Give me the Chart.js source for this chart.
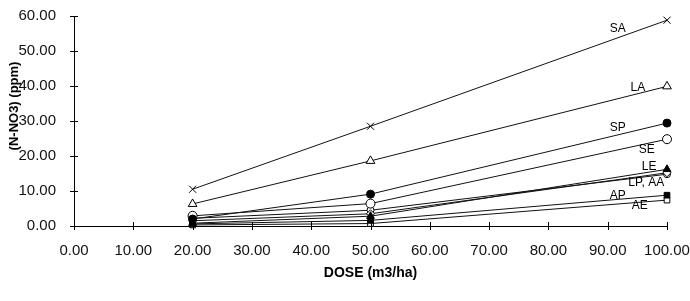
<!DOCTYPE html>
<html>
<head>
<meta charset="utf-8">
<script src="https://cdn.jsdelivr.net/npm/chart.js@4/dist/chart.umd.min.js"></script>
<style>
  html, body { margin: 0; padding: 0; background: #fff; }
  canvas { display: block; }
</style>
</head>
<body>
<canvas id="c" width="690" height="301"></canvas>
<script>
// ---- data ----
const doses = [20, 50, 100];
const seriesNames = ['SA', 'LA', 'SP', 'SE', 'LE', 'LP', 'AA', 'AP', 'AE'];
const SA = [10.5, 28.5, 58.8];
const LA = [6.3, 18.6, 39.9];
const SP = [2.0, 9.1, 29.4];
const SE = [2.9, 6.4, 24.8];
const LE = [0.8, 2.8, 16.2];
const LP = [1.5, 3.5, 15.2];
const AA = [2.2, 4.5, 14.8];
const AP = [0.6, 1.6, 8.8];
const AE = [0.3, 0.7, 7.4];
const xTicks = [0, 10, 20, 30, 40, 50, 60, 70, 80, 90, 100];
const yTicks = [0, 10, 20, 30, 40, 50, 60];
const xTitle = 'DOSE (m3/ha)';
const yTitle = '(N-NO3) (ppm)';
// label annotations (text, anchor in data units)
const labelTexts = ['SA', 'LA', 'SP', 'SE', 'LE', 'LP, AA', 'AP', 'AE'];
const labelDose = [91.7, 95.1, 91.7, 96.6, 97.0, 96.5, 91.7, 95.4];
const labelPpm  = [56.5, 39.6, 28.2, 21.9, 17.0, 12.5, 8.8, 5.9];

const values = { SA, LA, SP, SE, LE, LP, AA, AP, AE };
const styles = {
  SA: { pointStyle: 'crossRot', r: 5, fill: false },
  LA: { pointStyle: 'triangle', r: 5, fill: false },
  SP: { pointStyle: 'circle', r: 4, fill: true },
  SE: { pointStyle: 'circle', r: 4.5, fill: false },
  LE: { pointStyle: 'triangle', r: 4.5, fill: true },
  LP: { pointStyle: 'rectRot', r: 4, fill: false },
  AA: { pointStyle: 'circle', r: 3.5, fill: false },
  AP: { pointStyle: 'rect', r: 4, fill: true },
  AE: { pointStyle: 'rect', r: 4, fill: false }
};

const datasets = seriesNames.map(name => {
  const s = styles[name];
  return {
    label: name,
    data: doses.map((d, i) => ({ x: d, y: values[name][i] })),
    borderColor: '#111',
    borderWidth: 1,
    pointStyle: s.pointStyle,
    pointRadius: s.r,
    pointBorderWidth: 1,
    pointBorderColor: '#000',
    pointBackgroundColor: s.fill ? '#000' : '#fff',
    tension: 0,
    fill: false,
    clip: false
  };
});

const TICK_FONT = { family: 'Liberation Sans', size: 15 };

const decor = {
  id: 'decor',
  afterDraw(chart) {
    const ctx = chart.ctx;
    const xs = chart.scales.x, ys = chart.scales.y;
    const area = chart.chartArea;
    ctx.save();
    ctx.strokeStyle = '#000';
    ctx.lineWidth = 1;
    // crossing tick marks
    ctx.beginPath();
    xTicks.forEach(v => {
      const px = Math.round(xs.getPixelForValue(v)) + 0.5;
      ctx.moveTo(px, area.bottom - 4);
      ctx.lineTo(px, area.bottom + 4);
    });
    yTicks.forEach(v => {
      const py = Math.round(ys.getPixelForValue(v)) + 0.5;
      ctx.moveTo(area.left - 4, py);
      ctx.lineTo(area.left + 4, py);
    });
    ctx.stroke();
    // series labels
    ctx.fillStyle = '#000';
    ctx.font = '12px "Liberation Sans"';
    ctx.textAlign = 'center';
    ctx.textBaseline = 'middle';
    labelTexts.forEach((t, i) => {
      ctx.fillText(t, xs.getPixelForValue(labelDose[i]), ys.getPixelForValue(labelPpm[i]));
    });
    // axis titles
    ctx.font = 'bold 14px "Liberation Sans"';
    ctx.fillText(xTitle, (area.left + area.right) / 2, area.bottom + 47);
    ctx.save();
    ctx.translate(14, area.top + 90);
    ctx.rotate(-Math.PI / 2);
    ctx.font = 'bold 13px "Liberation Sans"';
    ctx.fillText(yTitle, 0, 0);
    ctx.restore();
    ctx.restore();
  }
};

new Chart(document.getElementById('c'), {
  type: 'line',
  data: { datasets },
  options: {
    responsive: false,
    animation: false,
    layout: { padding: { top: 16, right: 23, left: 0, bottom: 0 } },
    plugins: { legend: { display: false }, tooltip: { enabled: false } },
    scales: {
      x: {
        type: 'linear',
        min: 0, max: 100,
        grid: { display: false },
        border: { display: true, color: '#000', width: 1 },
        ticks: {
          stepSize: 10,
          color: '#111',
          font: TICK_FONT,
          padding: 8,
          maxRotation: 0,
          autoSkip: false,
          callback: v => Number(v).toFixed(2)
        },
        afterFit: s => { s.height = 75; s.paddingLeft = 0; s.paddingRight = 0; }
      },
      y: {
        type: 'linear',
        min: 0, max: 60,
        grid: { display: false },
        border: { display: true, color: '#000', width: 1 },
        ticks: {
          stepSize: 10,
          color: '#111',
          font: TICK_FONT,
          padding: 10,
          callback: v => Number(v).toFixed(2)
        },
        afterFit: s => { s.width = 74; s.paddingTop = 0; s.paddingBottom = 0; }
      }
    }
  },
  plugins: [decor]
});
</script>
</body>
</html>
